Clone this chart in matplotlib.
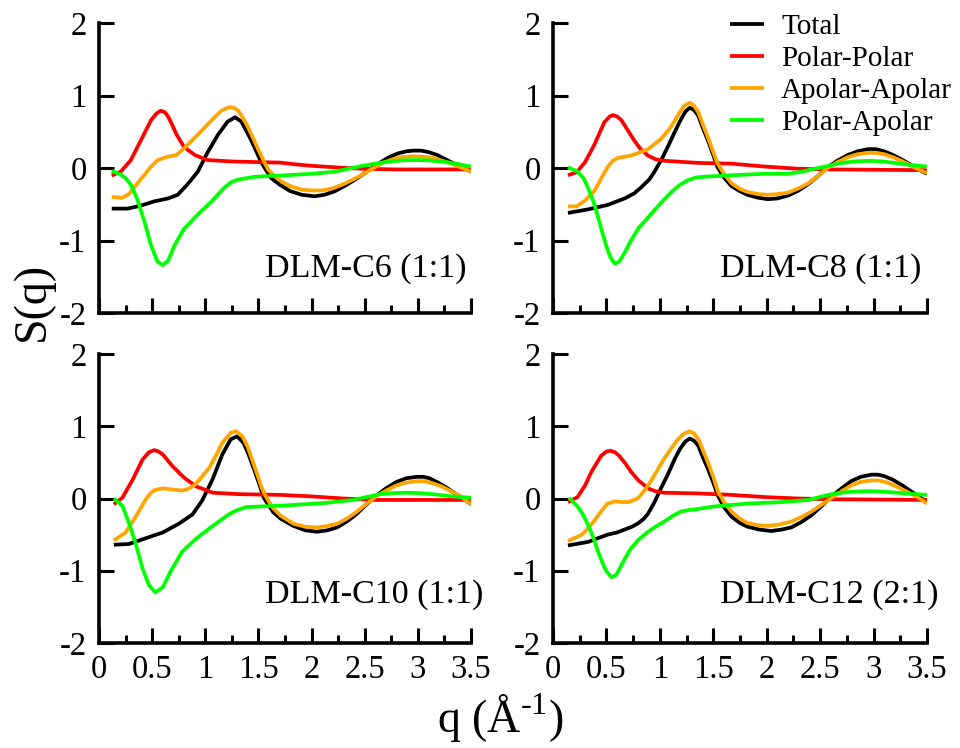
import matplotlib
matplotlib.use("Agg")
import matplotlib.pyplot as plt
from matplotlib.ticker import MultipleLocator

plt.rcParams['font.family'] = ['Liberation Serif', 'DejaVu Serif']
plt.rcParams['mathtext.fontset'] = 'custom'
plt.rcParams['mathtext.rm'] = 'Liberation Serif'
plt.rcParams['axes.unicode_minus'] = False

series_names = ["Total", "Polar-Polar", "Apolar-Apolar", "Polar-Apolar"]
series_colors = ["#000000", "#ff0000", "#ffa500", "#00ff00"]
panel_labels = ["DLM-C6 (1:1)", "DLM-C8 (1:1)", "DLM-C10 (1:1)", "DLM-C12 (2:1)"]
x_ticks = [0, 0.5, 1, 1.5, 2, 2.5, 3, 3.5]
x_tick_labels = ["0", "0.5", "1", "1.5", "2", "2.5", "3", "3.5"]
y_ticks = [-2, -1, 0, 1, 2]
y_tick_labels = ["-2", "-1", "0", "1", "2"]

# ---- DLM-C6 (1:1): (q, S(q)) pairs
c6_total = [(0.12,-0.56),(0.27,-0.56),(0.39,-0.52),(0.52,-0.46),(0.65,-0.42),(0.74,-0.37),(0.83,-0.23),(0.93,-0.05),(1.02,0.21),(1.12,0.46),(1.21,0.64),(1.28,0.70),(1.34,0.64),(1.43,0.39),(1.53,0.07),(1.62,-0.14),(1.70,-0.23),(1.80,-0.32),(1.91,-0.37),(2.03,-0.39),(2.12,-0.37),(2.22,-0.32),(2.32,-0.24),(2.41,-0.16),(2.49,-0.08),(2.57,0.00),(2.65,0.08),(2.73,0.15),(2.81,0.20),(2.89,0.23),(2.96,0.24),(3.03,0.24),(3.10,0.22),(3.18,0.18),(3.26,0.12),(3.34,0.06),(3.42,0.01),(3.50,-0.05)]
c6_pp = [(0.12,-0.105),(0.205,-0.05),(0.30,0.11),(0.39,0.37),(0.49,0.66),(0.54,0.75),(0.58,0.79),(0.62,0.77),(0.65,0.71),(0.69,0.59),(0.73,0.46),(0.80,0.29),(0.90,0.18),(1.02,0.11),(1.25,0.09),(1.53,0.08),(1.70,0.075),(1.85,0.05),(2.0,0.03),(2.16,0.015),(2.32,0.0),(2.48,-0.01),(2.79,-0.02),(3.50,-0.02)]
c6_aa = [(0.12,-0.40),(0.22,-0.41),(0.28,-0.36),(0.33,-0.27),(0.43,-0.09),(0.49,0.02),(0.55,0.105),(0.63,0.15),(0.73,0.18),(0.82,0.30),(0.93,0.46),(1.06,0.66),(1.15,0.79),(1.23,0.84),(1.27,0.83),(1.31,0.79),(1.35,0.70),(1.40,0.57),(1.45,0.41),(1.50,0.25),(1.55,0.10),(1.59,-0.02),(1.65,-0.11),(1.72,-0.19),(1.80,-0.25),(1.91,-0.30),(2.0,-0.31),(2.10,-0.31),(2.20,-0.28),(2.29,-0.23),(2.39,-0.16),(2.48,-0.09),(2.57,-0.01),(2.67,0.07),(2.76,0.12),(2.85,0.15),(2.93,0.16),(3.01,0.16),(3.09,0.15),(3.17,0.13),(3.25,0.09),(3.33,0.05),(3.42,0.0),(3.50,-0.05)]
c6_pa = [(0.12,-0.04),(0.205,-0.09),(0.25,-0.14),(0.30,-0.23),(0.36,-0.43),(0.43,-0.75),(0.49,-1.07),(0.55,-1.29),(0.60,-1.34),(0.65,-1.28),(0.71,-1.07),(0.80,-0.84),(0.93,-0.64),(1.06,-0.46),(1.18,-0.27),(1.25,-0.19),(1.31,-0.16),(1.47,-0.12),(1.70,-0.105),(2.0,-0.08),(2.22,-0.05),(2.35,-0.01),(2.48,0.03),(2.60,0.06),(2.73,0.09),(2.85,0.105),(2.98,0.11),(3.10,0.105),(3.23,0.09),(3.36,0.06),(3.50,0.02)]

# ---- DLM-C8 (1:1)
c8_total = [(0.14,-0.62),(0.33,-0.57),(0.51,-0.51),(0.67,-0.42),(0.76,-0.35),(0.83,-0.26),(0.90,-0.16),(0.95,-0.05),(1.02,0.13),(1.08,0.31),(1.14,0.50),(1.19,0.65),(1.24,0.78),(1.28,0.83),(1.32,0.80),(1.36,0.72),(1.40,0.56),(1.45,0.38),(1.50,0.18),(1.54,0.01),(1.60,-0.13),(1.67,-0.25),(1.75,-0.32),(1.82,-0.37),(1.92,-0.41),(2.01,-0.43),(2.10,-0.42),(2.20,-0.38),(2.30,-0.31),(2.39,-0.22),(2.48,-0.11),(2.57,0.01),(2.66,0.10),(2.76,0.18),(2.85,0.23),(2.95,0.26),(3.02,0.26),(3.10,0.23),(3.18,0.18),(3.26,0.12),(3.34,0.05),(3.42,-0.02),(3.50,-0.08)]
c8_pp = [(0.14,-0.10),(0.22,-0.06),(0.30,0.08),(0.39,0.33),(0.48,0.63),(0.53,0.71),(0.56,0.73),(0.60,0.71),(0.64,0.66),(0.70,0.52),(0.76,0.38),(0.82,0.26),(0.89,0.17),(0.96,0.12),(1.04,0.10),(1.36,0.07),(1.67,0.06),(1.98,0.02),(2.29,-0.01),(2.60,-0.02),(3.50,-0.03)]
c8_aa = [(0.14,-0.53),(0.22,-0.53),(0.30,-0.45),(0.39,-0.31),(0.46,-0.12),(0.51,0.01),(0.56,0.10),(0.61,0.14),(0.73,0.17),(0.89,0.26),(1.01,0.40),(1.08,0.52),(1.14,0.65),(1.19,0.78),(1.23,0.86),(1.28,0.90),(1.32,0.86),(1.36,0.77),(1.40,0.61),(1.45,0.42),(1.50,0.22),(1.54,0.06),(1.60,-0.08),(1.67,-0.21),(1.75,-0.29),(1.82,-0.33),(1.92,-0.36),(2.01,-0.37),(2.10,-0.36),(2.20,-0.34),(2.30,-0.28),(2.39,-0.21),(2.48,-0.11),(2.57,0.00),(2.66,0.08),(2.76,0.15),(2.85,0.19),(2.95,0.21),(3.02,0.21),(3.10,0.19),(3.18,0.15),(3.26,0.10),(3.34,0.04),(3.42,-0.02),(3.50,-0.07)]
c8_pa = [(0.14,0.01),(0.23,-0.05),(0.29,-0.15),(0.33,-0.28),(0.38,-0.47),(0.42,-0.67),(0.46,-0.88),(0.50,-1.08),(0.54,-1.24),(0.58,-1.32),(0.62,-1.29),(0.67,-1.17),(0.73,-1.00),(0.80,-0.83),(0.88,-0.70),(0.95,-0.58),(1.03,-0.45),(1.11,-0.33),(1.18,-0.24),(1.26,-0.17),(1.34,-0.13),(1.42,-0.12),(1.67,-0.10),(1.98,-0.08),(2.20,-0.08),(2.33,-0.05),(2.45,-0.01),(2.58,0.03),(2.70,0.07),(2.82,0.09),(2.95,0.10),(3.08,0.09),(3.20,0.07),(3.35,0.04),(3.50,0.02)]

# ---- DLM-C10 (1:1)
c10_total = [(0.14,-0.64),(0.28,-0.63),(0.44,-0.55),(0.60,-0.47),(0.75,-0.35),(0.88,-0.22),(0.97,-0.03),(1.07,0.27),(1.16,0.61),(1.24,0.82),(1.30,0.86),(1.36,0.77),(1.41,0.60),(1.46,0.40),(1.51,0.19),(1.55,0.01),(1.64,-0.19),(1.71,-0.28),(1.83,-0.38),(1.94,-0.44),(2.05,-0.46),(2.15,-0.44),(2.24,-0.40),(2.33,-0.32),(2.42,-0.22),(2.51,-0.09),(2.61,0.04),(2.70,0.14),(2.80,0.23),(2.89,0.28),(2.99,0.30),(3.05,0.30),(3.11,0.28),(3.19,0.22),(3.27,0.15),(3.35,0.07),(3.43,0.0),(3.50,-0.08)]
c10_pp = [(0.14,-0.08),(0.22,0.01),(0.32,0.27),(0.41,0.54),(0.47,0.64),(0.52,0.67),(0.56,0.65),(0.60,0.61),(0.69,0.45),(0.80,0.29),(0.91,0.17),(1.07,0.08),(1.32,0.06),(1.71,0.05),(1.99,0.03),(2.30,0.00),(2.61,-0.02),(3.50,-0.02)]
c10_aa = [(0.14,-0.58),(0.25,-0.47),(0.35,-0.24),(0.44,-0.01),(0.49,0.08),(0.53,0.12),(0.60,0.14),(0.66,0.13),(0.78,0.11),(0.85,0.14),(0.91,0.20),(1.04,0.43),(1.11,0.62),(1.16,0.77),(1.24,0.91),(1.29,0.93),(1.35,0.86),(1.40,0.71),(1.44,0.54),(1.49,0.33),(1.53,0.15),(1.58,0.0),(1.63,-0.12),(1.71,-0.24),(1.83,-0.35),(1.94,-0.39),(2.05,-0.40),(2.15,-0.38),(2.24,-0.35),(2.33,-0.28),(2.42,-0.19),(2.51,-0.08),(2.61,0.03),(2.70,0.11),(2.80,0.18),(2.89,0.22),(2.99,0.24),(3.06,0.24),(3.14,0.21),(3.22,0.17),(3.30,0.11),(3.40,0.03),(3.50,-0.08)]
c10_pa = [(0.14,0.0),(0.22,-0.10),(0.28,-0.33),(0.35,-0.65),(0.41,-0.97),(0.47,-1.20),(0.53,-1.30),(0.60,-1.23),(0.67,-1.02),(0.78,-0.74),(0.91,-0.56),(1.07,-0.38),(1.22,-0.22),(1.30,-0.16),(1.38,-0.12),(1.52,-0.11),(1.71,-0.10),(1.83,-0.09),(2.14,-0.06),(2.39,-0.02),(2.52,0.02),(2.64,0.06),(2.77,0.075),(2.89,0.08),(3.01,0.075),(3.14,0.06),(3.32,0.03),(3.50,0.01)]

# ---- DLM-C12 (2:1)
c12_total = [(0.14,-0.65),(0.33,-0.60),(0.51,-0.50),(0.60,-0.47),(0.67,-0.43),(0.74,-0.39),(0.80,-0.34),(0.85,-0.28),(0.89,-0.21),(0.95,-0.05),(1.01,0.14),(1.08,0.35),(1.14,0.55),(1.19,0.69),(1.24,0.79),(1.28,0.83),(1.32,0.80),(1.36,0.73),(1.40,0.58),(1.45,0.41),(1.50,0.22),(1.54,0.05),(1.60,-0.12),(1.67,-0.25),(1.75,-0.34),(1.82,-0.39),(1.93,-0.43),(2.04,-0.45),(2.14,-0.43),(2.23,-0.40),(2.32,-0.33),(2.42,-0.23),(2.51,-0.11),(2.60,0.02),(2.70,0.14),(2.79,0.24),(2.88,0.30),(2.98,0.33),(3.04,0.33),(3.10,0.31),(3.18,0.26),(3.26,0.19),(3.34,0.11),(3.42,0.03),(3.50,-0.05)]
c12_pp = [(0.14,-0.05),(0.23,0.02),(0.30,0.18),(0.36,0.37),(0.45,0.59),(0.50,0.65),(0.54,0.66),(0.58,0.64),(0.62,0.59),(0.68,0.48),(0.73,0.37),(0.80,0.25),(0.89,0.14),(0.96,0.10),(1.04,0.08),(1.36,0.07),(1.67,0.05),(1.98,0.02),(2.29,0.00),(2.60,-0.01),(3.50,-0.02)]
c12_aa = [(0.14,-0.59),(0.27,-0.50),(0.33,-0.41),(0.39,-0.30),(0.45,-0.18),(0.51,-0.07),(0.58,-0.04),(0.65,-0.05),(0.70,-0.05),(0.76,-0.02),(0.80,0.01),(0.86,0.12),(0.92,0.25),(0.98,0.40),(1.04,0.55),(1.11,0.70),(1.17,0.82),(1.23,0.90),(1.28,0.93),(1.32,0.90),(1.36,0.82),(1.40,0.68),(1.45,0.50),(1.50,0.30),(1.54,0.11),(1.60,-0.05),(1.67,-0.18),(1.75,-0.28),(1.82,-0.34),(1.92,-0.37),(2.01,-0.38),(2.12,-0.36),(2.23,-0.32),(2.32,-0.26),(2.42,-0.18),(2.51,-0.09),(2.60,0.00),(2.70,0.10),(2.79,0.18),(2.88,0.23),(2.98,0.25),(3.05,0.25),(3.13,0.22),(3.21,0.17),(3.29,0.11),(3.40,0.03),(3.50,-0.07)]
c12_pa = [(0.15,0.01),(0.23,-0.11),(0.28,-0.22),(0.33,-0.37),(0.38,-0.55),(0.42,-0.73),(0.46,-0.88),(0.50,-1.01),(0.55,-1.09),(0.59,-1.06),(0.62,-0.98),(0.67,-0.84),(0.73,-0.69),(0.80,-0.57),(0.89,-0.46),(0.96,-0.39),(1.04,-0.32),(1.12,-0.24),(1.20,-0.18),(1.27,-0.16),(1.33,-0.15),(1.42,-0.13),(1.51,-0.11),(1.82,-0.07),(2.14,-0.05),(2.39,-0.02),(2.52,0.03),(2.64,0.07),(2.77,0.09),(2.89,0.10),(3.01,0.10),(3.13,0.09),(3.30,0.07),(3.50,0.05)]

panels = [
    [c6_total, c6_pp, c6_aa, c6_pa],
    [c8_total, c8_pp, c8_aa, c8_pa],
    [c10_total, c10_pp, c10_aa, c10_pa],
    [c12_total, c12_pp, c12_aa, c12_pa],
]

W, H = 960, 748
fig = plt.figure(figsize=(9.6, 7.48), dpi=100)

# axes rectangles in pixels (left, top, right, bottom)
rects_px = [(99, 23, 471, 313), (553, 23, 927, 313),
            (99, 354, 471, 643), (553, 354, 927, 643)]

tick_fs = 23.5
for i, (l, t, r, b) in enumerate(rects_px):
    ax = fig.add_axes([l / W, 1 - b / H, (r - l) / W, (b - t) / H])
    for k, curve in enumerate(panels[i]):
        q = [p[0] for p in curve]
        s = [p[1] for p in curve]
        ax.plot(q, s, color=series_colors[k], lw=2.7, label=series_names[k],
                solid_joinstyle='round', solid_capstyle='butt')
    ax.set_xlim(0, 3.5)
    ax.set_ylim(-2, 2)
    for side in ('top', 'right'):
        ax.spines[side].set_visible(False)
    for side in ('left', 'bottom'):
        ax.spines[side].set_linewidth(2.6)
    ax.set_xticks(x_ticks)
    ax.xaxis.set_minor_locator(MultipleLocator(0.25))
    ax.set_yticks(y_ticks)
    ax.set_yticklabels(y_tick_labels)
    ax.tick_params(axis='both', which='major', direction='in', length=11, width=2.2,
                   labelsize=tick_fs)
    ax.tick_params(axis='y', which='major', pad=9)
    ax.tick_params(axis='x', which='major', pad=8)
    ax.tick_params(axis='x', which='minor', direction='in', length=6, width=2.2)
    if i >= 2:
        ax.set_xticklabels(x_tick_labels)
    else:
        ax.set_xticklabels([])
    ax.text(0.446, 0.125 if i < 2 else 0.138, panel_labels[i], transform=ax.transAxes,
            ha='left', va='baseline', fontsize=24.5)
    if i == 1:
        ax.legend(loc='upper left', bbox_to_anchor=(730 / W, 1 - 14 / H),
                  bbox_transform=fig.transFigure, frameon=False, fontsize=21,
                  handlelength=1.15, handletextpad=0.6, labelspacing=0.19,
                  borderpad=0, borderaxespad=0)

fig.text(33 / W, 1 - 301 / H, "S(q)", rotation=90, ha='center', va='center', fontsize=33)
fig.text(500 / W, 1 - 733 / H, r"q (Å$^{\text{-1}}$)", ha='center', va='baseline', fontsize=33)

fig.savefig("out.png", dpi=100)
